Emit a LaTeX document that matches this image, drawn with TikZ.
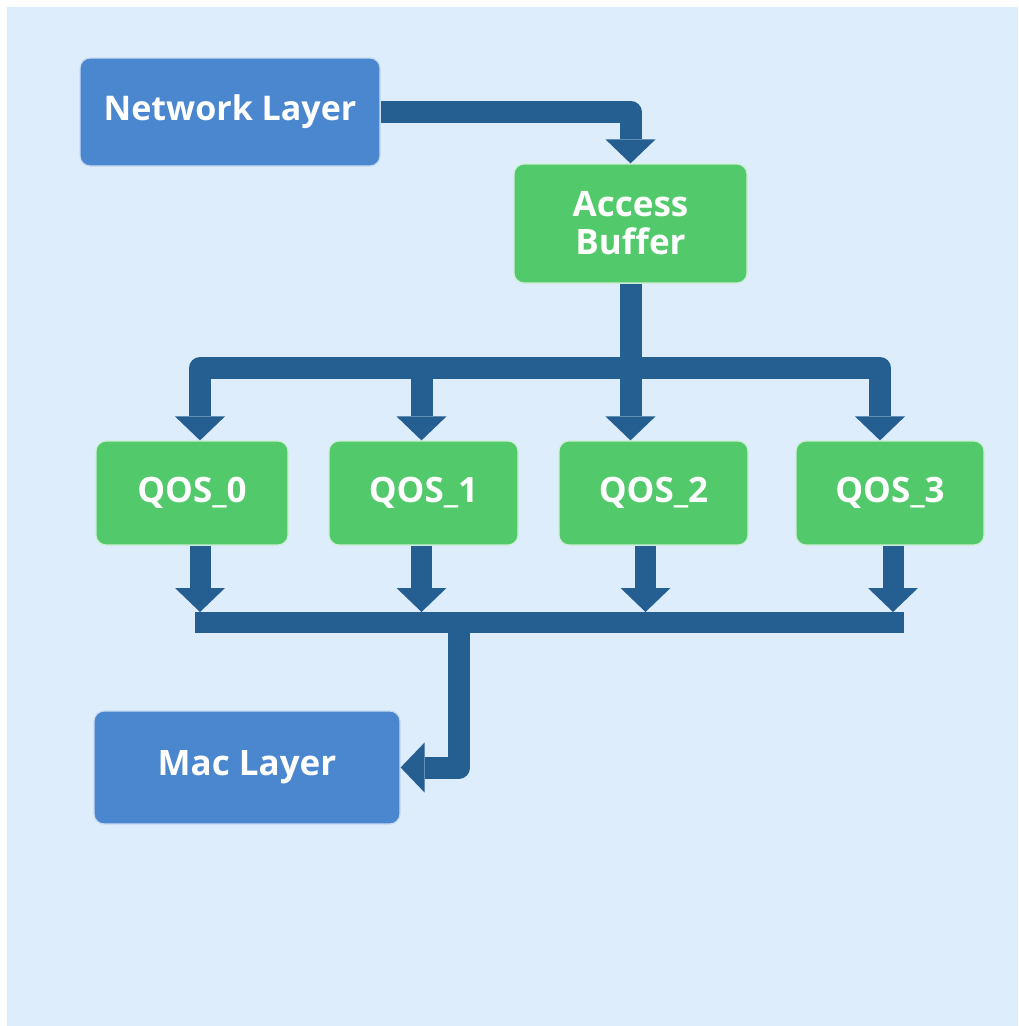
\documentclass[tikz,border=0pt]{standalone}
\usepackage{fontspec}
\setmainfont{Open Sans}
\usetikzlibrary{arrows.meta}

\definecolor{pagebg}{HTML}{DDEDFC}
\definecolor{layerblue}{HTML}{4A87CF}
\definecolor{queuegreen}{HTML}{52C96A}
\definecolor{flowblue}{HTML}{255F92}

\begin{document}
\begin{tikzpicture}[
    x=1pt, y=-1pt,
    layer/.style={
        fill=layerblue,
        draw=white!70!layerblue,
        line width=1.2pt,
        text=white,
        align=center,
        font=\fontsize{34}{38}\selectfont\bfseries,
        minimum height=108pt,
        rounded corners=10pt,
    },
    qa/.style={layer,fill=queuegreen,draw=white!70!queuegreen,
        minimum width=190pt,minimum height=104pt,
        font=\fontsize{35}{38}\selectfont\bfseries},
    qb/.style={qa,minimum width=233pt,minimum height=119pt,
        font=\fontsize{35}{38}\selectfont\bfseries},
    flow/.style={
        draw=flowblue,
        line width=22pt,
        line join=round,
        -{Triangle[width=50pt,length=24pt,line width=0pt]},
    },
    trunk/.style={flow,-},
]
    \useasboundingbox (0,0) rectangle (1018,1026);
    \fill[pagebg] (7,7) rectangle (1018,1026);

    % ~~~ layers and buffers ~~~~~~~~~~~~
    \node[layer,minimum width=300pt] (net) at (230,112) {Network Layer};
    \node[qb] (buf) at (630.5,223.5) {Access\\Buffer};
    \node[qa,minimum width=192pt] (q0) at (192,493) {QOS\_0};
    \node[qa,minimum width=189pt] (q1) at (423.5,493) {QOS\_1};
    \node[qa,minimum width=189pt] (q2) at (653.5,493) {QOS\_2};
    \node[qa,minimum width=188pt] (q3) at (890,493) {QOS\_3};
    \node[layer,minimum width=306pt,minimum height=113pt,
          font=\fontsize{35}{38}\selectfont\bfseries] (mac) at (247,767.5) {Mac Layer};

    % ~~~ split points ~~~~~~~~~~~~
    \coordinate (split) at (buf.south |- 0,368);
    \coordinate (t0) at ([xshift=8pt]q0.north);
    \coordinate (t1) at ([xshift=-2pt]q1.north);
    \coordinate (t3) at ([xshift=-10pt]q3.north);
    \coordinate (b0) at ([xshift=8pt]q0.south);
    \coordinate (b1) at ([xshift=-2pt]q1.south);
    \coordinate (b2) at ([xshift=-8pt]q2.south);
    \coordinate (b3) at ([xshift=3pt]q3.south);
    \coordinate (barL) at (195,622);
    \coordinate (barR) at (904,622);
    \coordinate (drop) at (459,622);

    % ~~~ connectors ~~~~~~~~~~~~
    \draw[flow] (net.east) -| (buf.north);
    \draw[trunk] (buf.south) -- (split);
    \draw[flow] (split) -| (t0);
    \draw[flow] (split) -| (t3);
    \draw[flow] (t1 |- split) -- (t1);
    \draw[flow] (split) -- (split |- q2.north);

    \draw[trunk,line width=21pt] (barL) -- (barR);
    \foreach \b in {b0,b1,b2,b3}
        \draw[flow,line width=21pt] (\b) -- (\b |- 0,612);
    \draw[flow] (drop) |- (mac.east);
\end{tikzpicture}
\end{document}
